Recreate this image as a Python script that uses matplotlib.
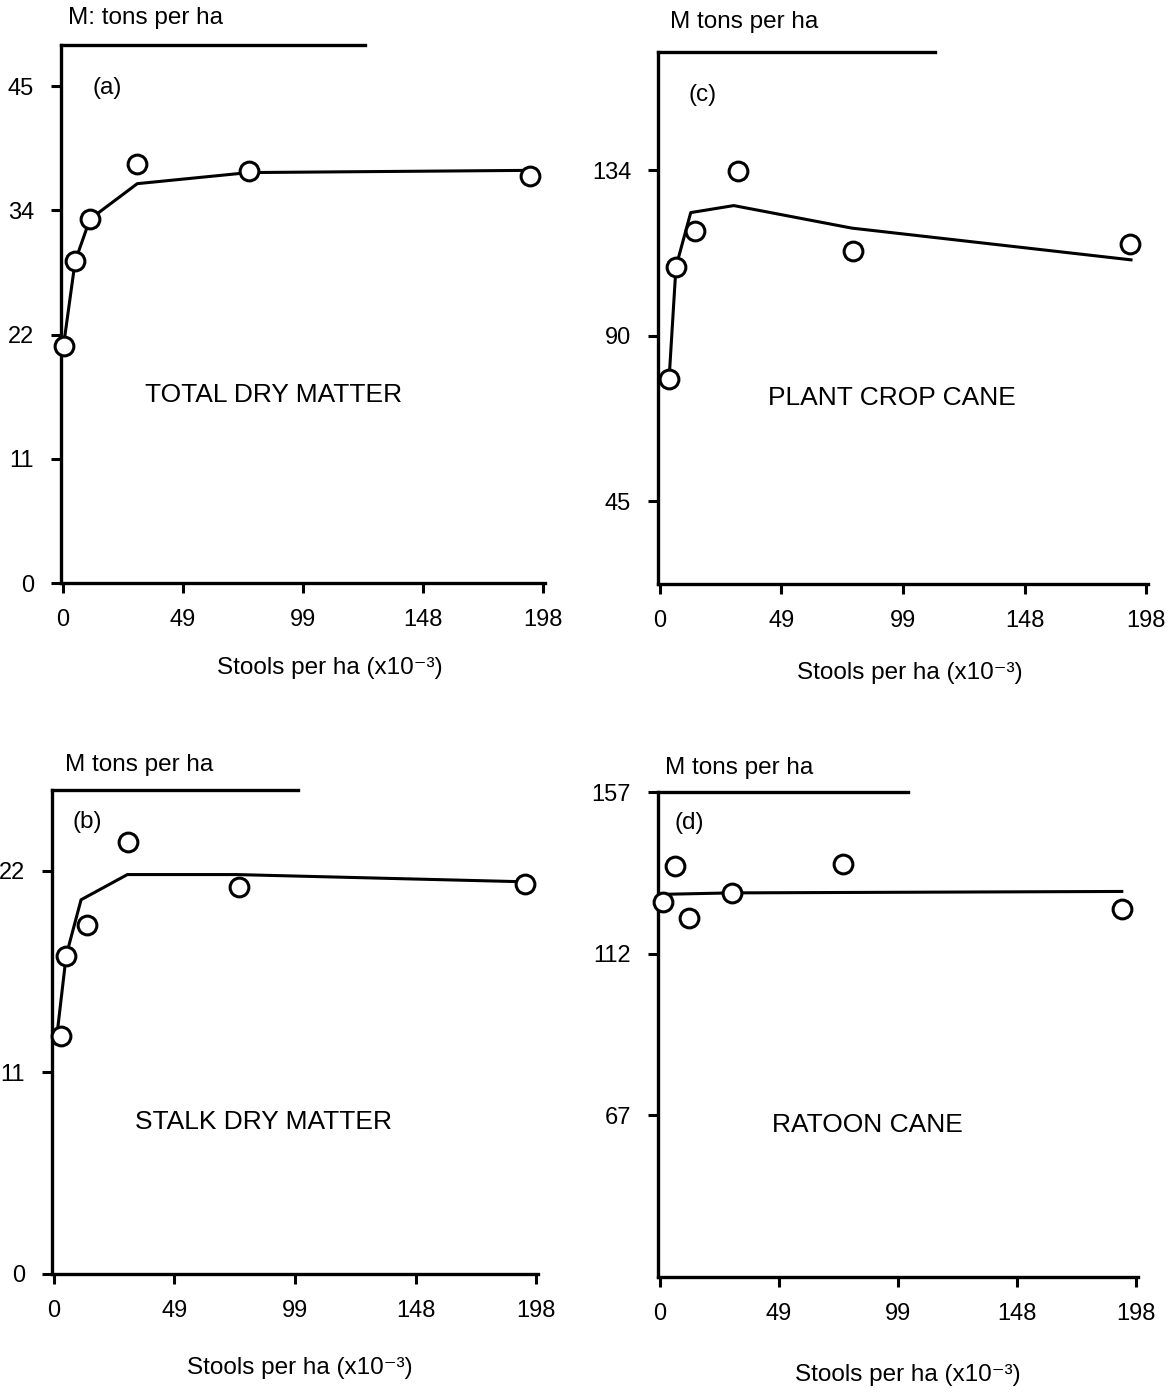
import matplotlib
matplotlib.use("Agg")
import matplotlib.pyplot as plt

plt.rcParams["font.family"] = ["Liberation Sans", "DejaVu Sans"]

W, H = 1174, 1392

# x axis: stools per ha (x10^-3), ticks are 0..80 thousand per acre converted
x_ticks = [0, 49.4, 98.8, 148.3, 197.7]
x_tick_labels = ["0", "49", "99", "148", "198"]

# (a) total dry matter
a_x = [0.5, 5.0, 11.1, 30.6, 76.5, 192.5]
a_y = [21.4, 29.0, 32.8, 37.8, 37.1, 36.7]
a_fit_x = [0.6, 5.0, 11.1, 30.6, 76.5, 192.5]
a_fit_y = [22.0, 29.0, 32.8, 36.0, 37.0, 37.2]
a_yticks = [0, 11.2, 22.4, 33.6, 44.8]
a_ylabels = ["0", "11", "22", "34", "45"]

# (b) stalk dry matter
b_x = [2.7, 5.0, 13.7, 30.5, 75.9, 193.3]
b_y = [13.2, 17.7, 19.4, 24.0, 21.5, 21.7]
b_fit_x = [0.8, 5.0, 11.1, 30.1, 74.8, 192.6]
b_fit_y = [12.8, 17.7, 20.8, 22.2, 22.2, 21.8]
b_yticks = [0, 11.2, 22.4]
b_ylabels = ["0", "11", "22"]

# (c) plant crop cane
c_x = [3.7, 6.5, 14.2, 31.6, 78.7, 191.2]
c_y = [78.0, 108.3, 118.1, 134.4, 112.6, 114.4]
c_fit_x = [3.7, 6.5, 12.5, 30.0, 78.0, 191.6]
c_fit_y = [78.0, 108.3, 123.0, 124.9, 118.8, 110.2]
c_yticks = [44.8, 89.7, 134.5]
c_ylabels = ["45", "90", "134"]

# (d) ratoon cane
d_x = [1.1, 6.3, 12.1, 29.8, 76.1, 191.8]
d_y = [126.6, 136.5, 122.1, 129.0, 136.9, 124.4]
d_fit_x = [1.1, 29.8, 191.8]
d_fit_y = [128.6, 129.0, 129.4]
d_yticks = [67.3, 112.1, 156.9]
d_ylabels = ["67", "112", "157"]


def px_text(fig, x, y, s, size=17.5, **kw):
    fig.text(x / W, 1 - y / H, s, fontsize=size, **kw)


def make_panel(fig, x0, x198, top, bottom, ylim, top_end, xs, ys, fx, fy, yticks, ylabels):
    # x0 / x198: pixel columns of x=0 and x=197.7; top / bottom: pixel rows of the ylim
    sc = (x198 - x0) / 197.7
    xlo, xhi = -1, 198.5
    left = x0 + xlo * sc
    right = x0 + xhi * sc
    ax = fig.add_axes([left / W, 1 - bottom / H, (right - left) / W, (bottom - top) / H])
    ax.set_xlim(xlo, xhi)
    ax.set_ylim(*ylim)
    ax.plot(fx, fy, color="black", lw=2.2, zorder=2, clip_on=False)
    ax.plot(xs, ys, "o", ms=13.5, mfc="white", mec="black", mew=2.2, zorder=3, clip_on=False)
    for side in ["left", "bottom", "top"]:
        ax.spines[side].set_linewidth(2.4)
    ax.spines["right"].set_visible(False)
    ax.spines["top"].set_bounds(xlo, top_end)
    ax.set_xticks(x_ticks)
    ax.set_xticklabels(x_tick_labels)
    ax.set_yticks(yticks)
    ax.set_yticklabels(ylabels)
    ax.tick_params(direction="out", length=7, width=2.2, pad=12, labelsize=17)
    return ax


fig = plt.figure(figsize=(W / 100, H / 100), dpi=100)

xlab = "Stools per ha (x10\u207b\u00b3)"

make_panel(fig, 63, 543, 45, 583, (0, 48.5), 124.4,
           a_x, a_y, a_fit_x, a_fit_y, a_yticks, a_ylabels)
px_text(fig, 68, 18, "M: tons per ha", ha="left", va="center")
px_text(fig, 92, 88, "(a)", ha="left", va="center")
px_text(fig, 145, 395, "TOTAL DRY MATTER", size=19, ha="left", va="center")
px_text(fig, 330, 668, xlab, ha="center", va="center")

make_panel(fig, 660, 1146, 52, 584, (22.4, 166.5), 111.9,
           c_x, c_y, c_fit_x, c_fit_y, c_yticks, c_ylabels)
px_text(fig, 670, 22, "M tons per ha", ha="left", va="center")
px_text(fig, 688, 95, "(c)", ha="left", va="center")
px_text(fig, 768, 398, "PLANT CROP CANE", size=19, ha="left", va="center")
px_text(fig, 910, 673, xlab, ha="center", va="center")

make_panel(fig, 54, 536, 790, 1274, (0, 26.9), 100,
           b_x, b_y, b_fit_x, b_fit_y, b_yticks, b_ylabels)
px_text(fig, 65, 765, "M tons per ha", ha="left", va="center")
px_text(fig, 72, 822, "(b)", ha="left", va="center")
px_text(fig, 135, 1122, "STALK DRY MATTER", size=19, ha="left", va="center")
px_text(fig, 300, 1368, xlab, ha="center", va="center")

make_panel(fig, 660, 1136, 792, 1277, (22.4, 157), 103,
           d_x, d_y, d_fit_x, d_fit_y, d_yticks, d_ylabels)
px_text(fig, 665, 768, "M tons per ha", ha="left", va="center")
px_text(fig, 675, 823, "(d)", ha="left", va="center")
px_text(fig, 772, 1125, "RATOON CANE", size=19, ha="left", va="center")
px_text(fig, 908, 1375, xlab, ha="center", va="center")

fig.savefig("out.png", dpi=100)
plt.close(fig)
